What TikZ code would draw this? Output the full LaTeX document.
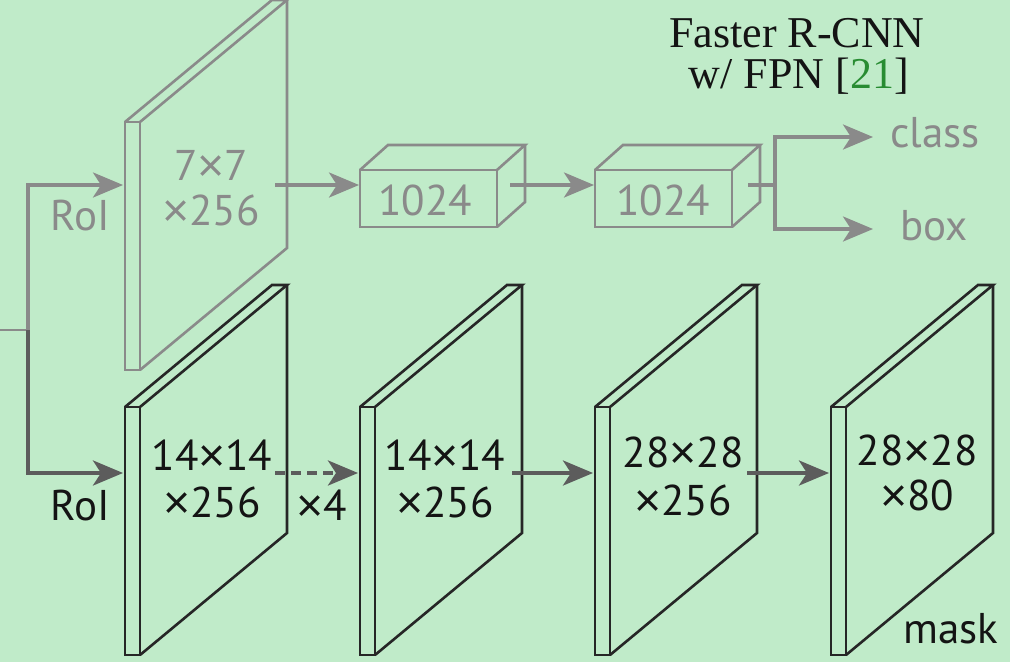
\documentclass[tikz,border=0pt]{standalone}
\usepackage{fontspec}
\setmainfont{Liberation Serif}
\newfontfamily\labfont{PT Sans}
\newfontfamily\mulfont{Liberation Sans}
\usetikzlibrary{arrows.meta}
\definecolor{bgc}{RGB}{192,235,201}
\definecolor{lgray}{RGB}{138,138,138}
\definecolor{dgray}{RGB}{92,92,92}
\definecolor{slabc}{RGB}{38,38,38}
\definecolor{txtc}{RGB}{20,20,20}
\definecolor{refgreen}{RGB}{40,140,50}
\newcommand\tms{{\mulfont\raisebox{-0.03em}{\scalebox{1.08}{×}}}}
\newcommand\slabshape[4]{%
  \draw[#4] (#1,#2) rectangle ++(15,#3);
  \draw[#4] (#1,#2) -- ++(147,-122) -- ++(15,0) -- ++(-147,122);
  \draw[#4] (#1+162,#2-122) -- ++(0,#3) -- (#1+15,#2+#3);
}
\newcommand\cubeshape[2]{%
  \draw[#2] (#1,170) rectangle ++(137,57);
  \draw[#2] (#1,170) -- ++(28,-25) -- ++(137,0) -- ++(-28,25);
  \draw[#2] (#1+165,145) -- ++(0,57) -- (#1+137,227);
}
\begin{document}
\begin{tikzpicture}[x=1pt,y=-1pt,
  lab/.style={font=\labfont\fontsize{43}{45}\selectfont, inner sep=0pt, anchor=base},
  toplab/.style={lab, text=lgray},
  botlab/.style={lab, text=txtc},
  ttl/.style={font=\fontsize{44}{46}\selectfont, inner sep=0pt, anchor=base, text=txtc},
  tip/.style={-{Stealth[length=30pt,width=25pt,inset=8pt]}},
  grayline/.style={draw=lgray, line width=3.5pt},
  darkline/.style={draw=dgray, line width=3.8pt},
  topslab/.style={draw=lgray, line width=2.6pt},
  botslab/.style={draw=slabc, line width=2.6pt},
  ]
\fill[bgc] (0,0) rectangle (1010,662);
\useasboundingbox (0,0) rectangle (1010,662);

% title
\node[ttl] (title1) at (797,47) {Faster R-CNN};
\node[ttl] (title2) at (799,88) {w/ FPN [\textcolor{refgreen}{21}]};

% shapes
\slabshape{125}{122}{248}{topslab}
\slabshape{125}{407}{248}{botslab}
\slabshape{360}{407}{248}{botslab}
\slabshape{595}{407}{248}{botslab}
\slabshape{831}{407}{248}{botslab}
\cubeshape{360}{topslab}
\cubeshape{595}{topslab}

% coordinates
\coordinate (in) at (0,330);
\coordinate (junc) at (28,330);
\coordinate (jtop) at (28,185);
\coordinate (jbot) at (28,473);
\coordinate (s0in) at (123,185);
\coordinate (s0out) at (275,185);
\coordinate (c1in) at (359,185);
\coordinate (c1out) at (510,185);
\coordinate (c2in) at (594,185);
\coordinate (c2out) at (748,185);
\coordinate (split) at (775,185);
\coordinate (sclass) at (775,137);
\coordinate (sbox) at (775,229);
\coordinate (oclass) at (873,137);
\coordinate (obox) at (873,229);
\coordinate (s1in) at (123,473);
\coordinate (s1out) at (275,473);
\coordinate (s2in) at (358,473);
\coordinate (s2out) at (512,473);
\coordinate (s3in) at (593,473);
\coordinate (s3out) at (747,473);
\coordinate (s4in) at (829,473);

% connectors top
\draw[draw=lgray, line width=2.4pt] (in) -- (junc);
\draw[grayline, tip] (junc) -- (jtop) -- (s0in);
\draw[grayline, tip] (s0out) -- (c1in);
\draw[grayline, tip] (c1out) -- (c2in);
\draw[grayline] (c2out) -- (split);
\draw[grayline, tip] (split) -- (sclass) -- (oclass);
\draw[grayline, tip] (split) -- (sbox) -- (obox);

% connectors bottom
\draw[darkline, tip] (junc) -- (jbot) -- (s1in);
\draw[darkline, tip, dash pattern=on 10pt off 6pt] (s1out) -- (s2in);
\draw[darkline, tip] (s2out) -- (s3in);
\draw[darkline, tip] (s3out) -- (s4in);

% labels top
\node[toplab] (roitop) at (80,230) {RoI};
\node[toplab] (s0a) at (211,180) {7\tms7};
\node[toplab] (s0b) at (211,225) {\tms256};
\node[toplab] (c1lab) at (425,215) {1024};
\node[toplab] (c2lab) at (663,215) {1024};
\node[toplab] (classlab) at (935,147) {class};
\node[toplab] (boxlab) at (934,240) {box};

% labels bottom
\node[botlab] (roibot) at (80,520) {RoI};
\node[botlab] (s1a) at (212,470) {14\tms14};
\node[botlab] (s1b) at (212,517) {\tms256};
\node[botlab] (rep) at (322,520) {\tms4};
\node[botlab] (s2a) at (445,470) {14\tms14};
\node[botlab] (s2b) at (445,517) {\tms256};
\node[botlab] (s3a) at (683,467) {28\tms28};
\node[botlab] (s3b) at (683,515) {\tms256};
\node[botlab] (s4a) at (917,465) {28\tms28};
\node[botlab] (s4b) at (917,510) {\tms80};
\node[botlab] (masklab) at (951,643) {mask};
\end{tikzpicture}
\end{document}
